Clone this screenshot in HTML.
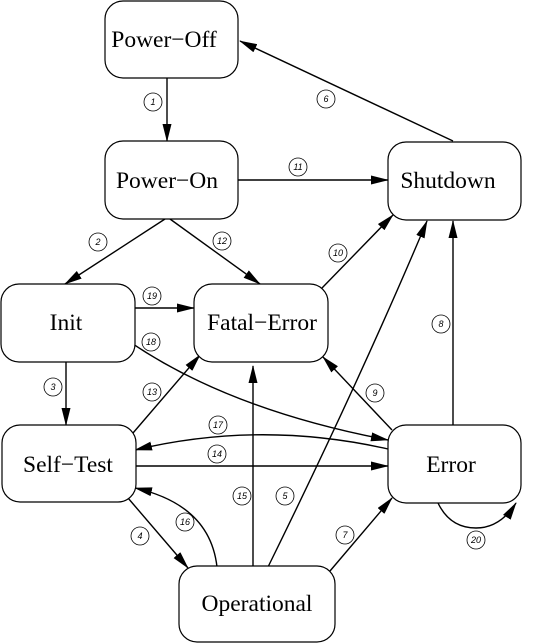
<!DOCTYPE html>
<html><head><meta charset="utf-8"><style>
html,body{margin:0;padding:0;background:#fff;}
svg{display:block;}
.n{fill:#fff;stroke:#000;stroke-width:1.2;}
.t{font-family:"Liberation Serif",serif;font-size:23.5px;text-anchor:middle;}
.e{fill:none;stroke:#000;stroke-width:1.4;}
.lc{fill:#fff;stroke:#000;stroke-width:0.8;}
.lt{font-family:"Liberation Sans",sans-serif;font-size:9px;font-style:italic;text-anchor:middle;}
</style></head><body>
<svg width="552" height="643" viewBox="0 0 552 643" xmlns="http://www.w3.org/2000/svg">
<defs><marker id="a" markerWidth="18" markerHeight="9" refX="17" refY="4.5" orient="auto" markerUnits="userSpaceOnUse"><path d="M0,0 L18,4.5 L0,9 Z"/></marker></defs>
<g class="e" marker-end="url(#a)">
<path d="M167,78 L167,141"/>
<path d="M453,141 L240,41"/>
<path d="M238,180 L388,180"/>
<path d="M165,219 L65,284"/>
<path d="M170,219 L260,284"/>
<path d="M322,288 L393,215"/>
<path d="M268,567 Q360,380 427,221"/>
<path d="M453,425 L453,221"/>
<path d="M135,308 L194,308"/>
<path d="M130,342 Q230,410 388,440"/>
<path d="M66,362 L66,425"/>
<path d="M133,433 L200,355"/>
<path d="M392,430 L323,357"/>
<path d="M388,449 Q260,420 135,450"/>
<path d="M135,466 L388,466"/>
<path d="M253,566 L253,366"/>
<path d="M217,567 Q210,505 135,488"/>
<path d="M128,498 L188,568"/>
<path d="M330,571 L392,498"/>
<path d="M438,503 Q450,528 476,528 Q500,528 516,503"/>
</g>
<rect class="n" x="105" y="1" width="133" height="77" rx="18"/>
<rect class="n" x="105" y="141" width="133" height="78" rx="18"/>
<rect class="n" x="388" y="142" width="133" height="78" rx="18"/>
<rect class="n" x="1" y="284" width="134" height="78" rx="18"/>
<rect class="n" x="194" y="284" width="134" height="78" rx="18"/>
<rect class="n" x="2" y="425" width="134" height="77" rx="18"/>
<rect class="n" x="388" y="425" width="133" height="78" rx="18"/>
<rect class="n" x="179" y="566" width="156" height="76" rx="18"/>
<text class="t" x="164" y="47">Power−Off</text>
<text class="t" x="167" y="188">Power−On</text>
<text class="t" x="448" y="188">Shutdown</text>
<text class="t" x="66" y="330">Init</text>
<text class="t" x="262" y="330">Fatal−Error</text>
<text class="t" x="68" y="472">Self−Test</text>
<text class="t" x="451" y="472">Error</text>
<text class="t" x="257" y="611">Operational</text>
<g>
<circle class="lc" cx="153" cy="102" r="9"/><text class="lt" x="153" y="105">1</text>
<circle class="lc" cx="326" cy="99" r="9"/><text class="lt" x="326" y="102">6</text>
<circle class="lc" cx="298" cy="167" r="9"/><text class="lt" x="298" y="170">11</text>
<circle class="lc" cx="98" cy="242" r="9"/><text class="lt" x="98" y="245">2</text>
<circle class="lc" cx="222" cy="241" r="9"/><text class="lt" x="222" y="244">12</text>
<circle class="lc" cx="338" cy="253" r="9"/><text class="lt" x="338" y="256">10</text>
<circle class="lc" cx="441" cy="324" r="9"/><text class="lt" x="441" y="327">8</text>
<circle class="lc" cx="152" cy="296" r="9"/><text class="lt" x="152" y="299">19</text>
<circle class="lc" cx="151" cy="342" r="9"/><text class="lt" x="151" y="345">18</text>
<circle class="lc" cx="53" cy="387" r="9"/><text class="lt" x="53" y="390">3</text>
<circle class="lc" cx="152" cy="392" r="9"/><text class="lt" x="152" y="395">13</text>
<circle class="lc" cx="375" cy="393" r="9"/><text class="lt" x="375" y="396">9</text>
<circle class="lc" cx="218" cy="425" r="9"/><text class="lt" x="218" y="428">17</text>
<circle class="lc" cx="217" cy="454" r="9"/><text class="lt" x="217" y="457">14</text>
<circle class="lc" cx="242" cy="496" r="9"/><text class="lt" x="242" y="499">15</text>
<circle class="lc" cx="285" cy="496" r="9"/><text class="lt" x="285" y="499">5</text>
<circle class="lc" cx="185" cy="522" r="9"/><text class="lt" x="185" y="525">16</text>
<circle class="lc" cx="140" cy="536" r="9"/><text class="lt" x="140" y="539">4</text>
<circle class="lc" cx="345" cy="535" r="9"/><text class="lt" x="345" y="538">7</text>
<circle class="lc" cx="476" cy="540" r="9"/><text class="lt" x="476" y="543">20</text>
</g>
</svg>
</body></html>
